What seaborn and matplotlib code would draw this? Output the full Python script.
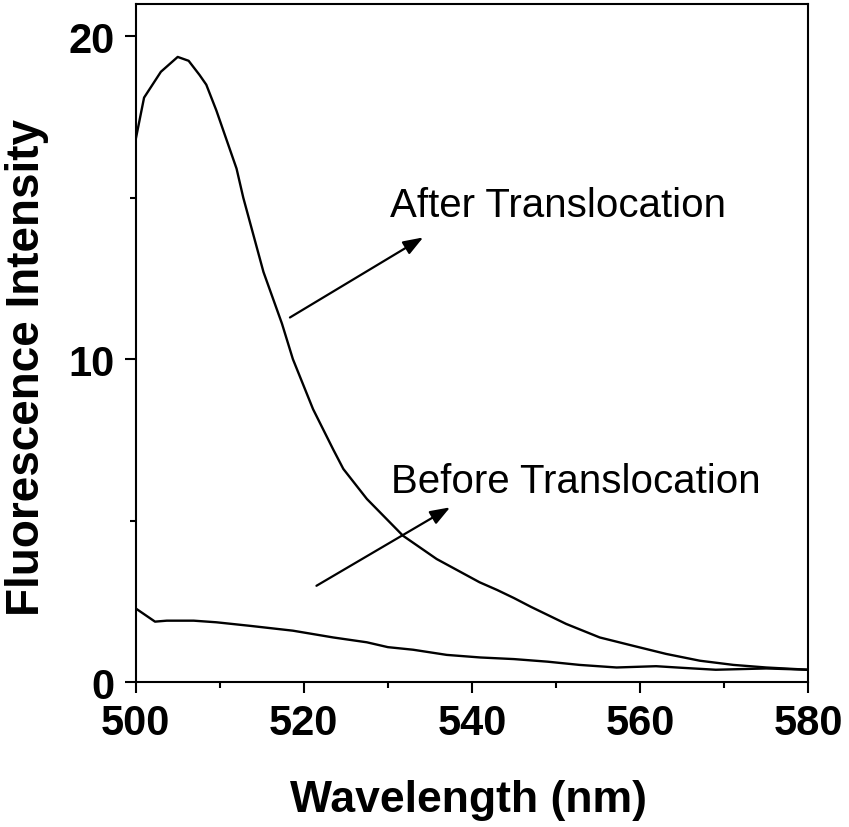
import matplotlib
matplotlib.use("Agg")
import matplotlib.pyplot as plt
from matplotlib.ticker import MultipleLocator
import seaborn as sns
import pandas as pd

# data
wl_after = [500, 501, 503, 505, 506.3, 507.6, 508.4, 509.6, 510.8, 512, 512.8,
            515.2, 517.4, 518.7, 521.1, 523.5, 524.7, 527.5, 531.8, 535.8,
            540.9, 543, 545, 547, 551.2, 555.2, 559.2, 563.1, 567.1, 571.1, 575, 580]
after = [16.8, 18.1, 18.9, 19.36, 19.24, 18.8, 18.5, 17.7, 16.8, 15.9, 15.0,
         12.7, 11.1, 10.0, 8.45, 7.2, 6.6, 5.67, 4.53, 3.81,
         3.09, 2.85, 2.6, 2.33, 1.8, 1.38, 1.12, 0.87, 0.66, 0.53, 0.45, 0.38]

wl_before = [500, 502.3, 503.7, 506.9, 509.6, 513.6, 518.7, 523.5, 527.5, 530,
             533, 537, 541, 545, 549, 552.8, 557.2, 561.9, 565, 569, 575, 580]
before = [2.28, 1.87, 1.9, 1.9, 1.85, 1.74, 1.59, 1.38, 1.23, 1.08,
          1.0, 0.84, 0.76, 0.71, 0.63, 0.53, 0.45, 0.49, 0.44, 0.38, 0.42, 0.38]

df_after = pd.DataFrame({"wavelength": wl_after, "intensity": after})
df_before = pd.DataFrame({"wavelength": wl_before, "intensity": before})

sns.set_style("ticks")
plt.rcParams['font.family'] = ['Liberation Sans', 'DejaVu Sans']
plt.rcParams['text.color'] = 'black'
plt.rcParams['axes.labelcolor'] = 'black'
plt.rcParams['xtick.color'] = 'black'
plt.rcParams['ytick.color'] = 'black'

fig = plt.figure(figsize=(8.49, 8.28), dpi=100)
ax = fig.add_axes([0.1598, 0.1751, 0.7922, 0.8189])

sns.lineplot(data=df_after, x="wavelength", y="intensity", color="black", lw=1.7, sort=False, ax=ax)
sns.lineplot(data=df_before, x="wavelength", y="intensity", color="black", lw=1.7, sort=False, ax=ax)

ax.set_xlim(500, 580)
ax.set_ylim(0, 21)
ax.xaxis.set_major_locator(MultipleLocator(20))
ax.xaxis.set_minor_locator(MultipleLocator(10))
ax.yaxis.set_major_locator(MultipleLocator(10))
ax.yaxis.set_minor_locator(MultipleLocator(5))
ax.tick_params(which='major', direction='out', length=8, width=1.5, labelsize=30, pad=7,
               colors='black')
ax.tick_params(which='minor', direction='out', length=4, width=1.5, colors='black')
ax.tick_params(top=False, right=False, which='both')
for lbl in ax.get_xticklabels() + ax.get_yticklabels():
    lbl.set_fontweight('bold')
for sp in ax.spines.values():
    sp.set_linewidth(1.5)
    sp.set_color('black')
    sp.set_visible(True)

ax.set_xlabel("")
ax.set_ylabel("")
fig.text(0.552, 16 / 828, "Wavelength (nm)", ha='center', va='baseline',
         fontsize=32, fontweight='bold', color='black')
fig.text(27 / 849, 1 - 368 / 828, "Fluorescence Intensity", ha='center', va='center',
         rotation=90, fontsize=33, fontweight='bold', color='black')

# annotations with arrows
arrow = dict(arrowstyle='-|>,head_length=0.6,head_width=0.22', color='black', lw=1.6,
             mutation_scale=20, shrinkA=0, shrinkB=0)
ax.annotate("", xy=(534.2, 13.77), xytext=(518.35, 11.29), arrowprops=arrow)
ax.annotate("", xy=(537.4, 5.41), xytext=(521.5, 2.98), arrowprops=arrow)
ax.text(530.2, 14.44, "After Translocation", fontsize=29, ha='left', va='baseline', color='black')
ax.text(530.4, 5.87, "Before Translocation", fontsize=29, ha='left', va='baseline', color='black')

fig.savefig("out.png", dpi=100, facecolor='white')
